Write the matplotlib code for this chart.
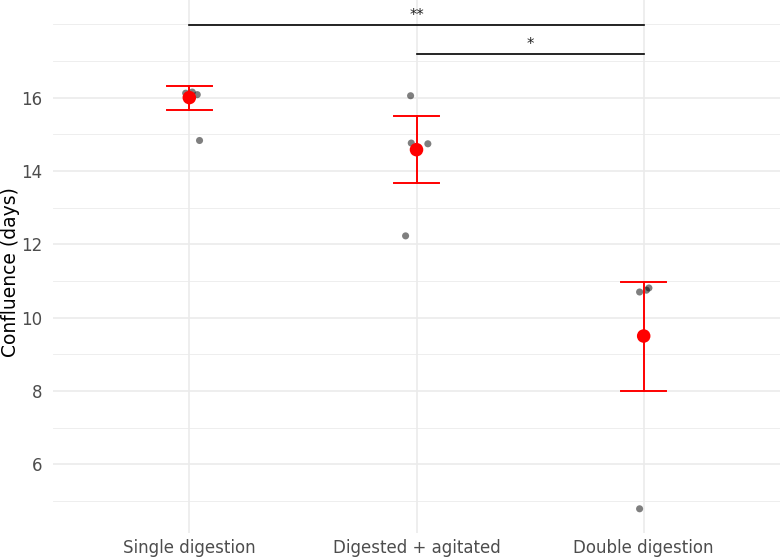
import matplotlib
matplotlib.use("Agg")
import matplotlib.pyplot as plt
import numpy as np

categories = ["Single digestion", "Digested + agitated", "Double digestion"]
points_x = [1, 1, 1, 1, 2, 2, 2, 2, 3, 3, 3, 3]
points_jitter = [-0.016, 0.013, 0.035, 0.045, -0.026, -0.023, 0.05, -0.048, -0.018, 0.012, 0.023, -0.018]
points_y = [16.12, 16.15, 16.08, 14.83, 16.05, 14.76, 14.74, 12.23, 10.70, 10.75, 10.81, 4.79]
means = [16.0, 14.58, 9.5]
err_low = [15.65, 13.66, 8.0]
err_high = [16.32, 15.5, 10.98]
brackets = [(1, 3, 17.99, "**"), (2, 3, 17.2, "*")]
yticks = [6, 8, 10, 12, 14, 16]
yminor = [5, 7, 9, 11, 13, 15, 17, 18]

fig = plt.figure(figsize=(7.81, 5.57), dpi=100)
ax = fig.add_axes([53/781, 1 - 533/557, 727/781, 533/557])

grid_c = "#EBEBEB"
for v in yminor:
    ax.axhline(v, color=grid_c, lw=0.6, zorder=0)
for v in yticks:
    ax.axhline(v, color=grid_c, lw=1.2, zorder=0)
for i in range(1, 4):
    ax.axvline(i, color=grid_c, lw=1.2, zorder=0)

px = np.array(points_x) + np.array(points_jitter)
ax.scatter(px, points_y, s=26, color="black", alpha=0.5, edgecolors="none", zorder=3)

xs = np.arange(1, 4)
for x, lo, hi in zip(xs, err_low, err_high):
    ax.plot([x, x], [lo, hi], color="red", lw=1.4, zorder=4)
    ax.plot([x - 0.1, x + 0.1], [lo, lo], color="red", lw=1.4, zorder=4)
    ax.plot([x - 0.1, x + 0.1], [hi, hi], color="red", lw=1.4, zorder=4)
ax.scatter(xs, means, s=95, color="red", edgecolors="none", zorder=5)

for x0, x1, y, lab in brackets:
    ax.plot([x0, x1], [y, y], color="black", lw=1.2, zorder=6)
    ax.text((x0 + x1) / 2, y + 0.03, lab, ha="center", va="bottom", fontsize=10.5, color="#222222")

ax.set_xlim(0.4, 3.6)
ax.set_ylim(4.13, 18.66)
ax.set_xticks(xs)
ax.set_xticklabels(categories)
ax.set_yticks(yticks)
ax.tick_params(length=0, labelsize=12, colors="#4D4D4D")
ax.tick_params(axis="y", pad=8)
ax.tick_params(axis="x", pad=4)
for s in ax.spines.values():
    s.set_visible(False)
fig.text(1 / 781, 1 - 272 / 557, "Confluence (days)", rotation=90, ha="left", va="center",
         fontsize=13.5, color="black")

fig.savefig("out.png", dpi=100)
